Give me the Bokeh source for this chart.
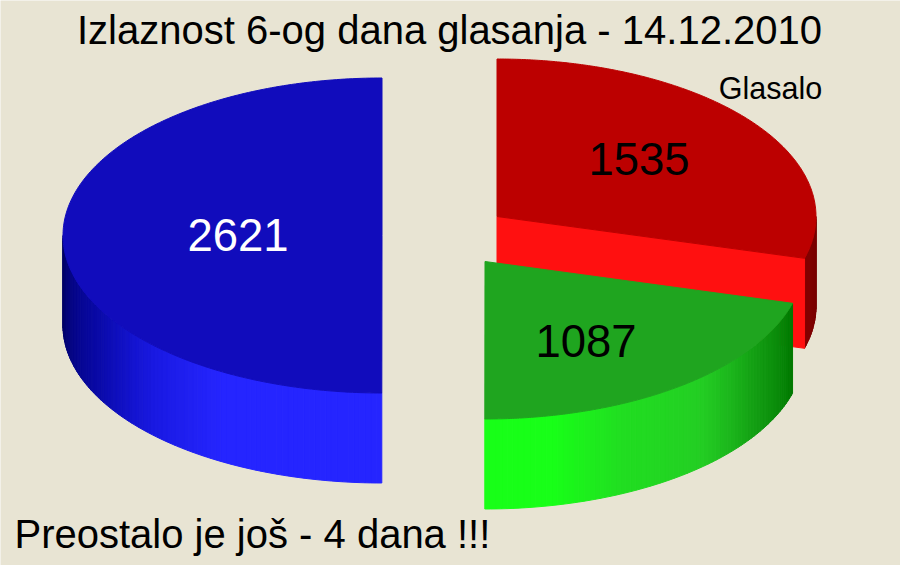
import numpy as np
from bokeh.plotting import figure
from bokeh.models import Range1d
from bokeh.core.properties import value
from bokeh.embed import file_html
from bokeh.resources import INLINE

# data
labels = ["1535", "1087", "2621"]
values = [1535, 1087, 2621]
title_text = "Izlaznost 6-og dana glasanja - 14.12.2010"
legend_text = "Glasalo"
footer_text = "Preostalo je još - 4 dana !!!"

# style / projection
BG = "#e8e4d3"
RX, RY, DEPTH = 319.0, 157.5, 90.0
centers = [(496.5, 216.0), (484.5, 261.0), (381.5, 235.0)]
top_colors = ["#bc0000", "#1fa51f", "#110cbc"]
face_color = "#ff1010"
label_colors = ["black", "black", "white"]
label_pos = [(638.5, 158), (585.5, 340), (237.5, 234)]
FONT = "Liberation Sans"
# wall shading stops: angle clockwise from the top (deg), rgb
red_shade = [(60, (90, 0, 0)), (105, (130, 0, 0))]
green_shade = [(105, (0, 118, 0)), (123, (20, 160, 20)), (137, (35, 205, 35)), (155, (33, 222, 33)),
               (168, (24, 255, 24)), (180, (24, 255, 24))]
blue_shade = [(180, (37, 37, 255)), (210, (37, 37, 255)), (226, (25, 25, 225)), (242, (10, 10, 170)),
              (270, (0, 0, 100))]
shades = [red_shade, green_shade, blue_shade]

W, H = 900, 565
p = figure(width=W, height=H, output_backend="svg", toolbar_location=None,
           x_range=Range1d(0, W), y_range=Range1d(H, 0), min_border=0,
           background_fill_color=BG, border_fill_color=BG, outline_line_color=None)
p.axis.visible = False
p.grid.visible = False

fractions = np.array(values, dtype=float) / sum(values)
edges = np.concatenate([[0.0], np.cumsum(fractions) * 360.0])


def rim(c, t_deg):
    t = np.radians(t_deg)
    return c[0] + RX * np.sin(t), c[1] - RY * np.cos(t)


def shade(stops, t):
    a = [s[0] for s in stops]
    rgb = [int(round(np.interp(t, a, [s[1][k] for s in stops]))) for k in range(3)]
    return "#%02x%02x%02x" % tuple(rgb)


def wall(c, t0, t1, stops):
    # only the front half of the rim is visible from above
    lo = max(t0, 90.0) if t1 <= 180 else t0
    hi = min(t1, 270.0)
    n = max(int((hi - lo) / 1.0), 1)
    ts = np.linspace(lo, hi, n + 1)
    xs, ys, cols = [], [], []
    for a, b in zip(ts[:-1], ts[1:]):
        xa, ya = rim(c, a)
        xb, yb = rim(c, b)
        xs.append([xa, xb, xb, xa])
        ys.append([ya, yb, yb + DEPTH, ya + DEPTH])
        col = shade(stops, 0.5 * (a + b))
        cols.append(col)
    p.patches(xs, ys, fill_color=cols, line_color=cols, line_width=1)


def top(c, t0, t1, col):
    ts = np.linspace(t0, t1, 241)
    x, y = rim(c, ts)
    p.patch(np.r_[c[0], x], np.r_[c[1], y], fill_color=col, line_color=col, line_width=1)


# blue slice
wall(centers[2], edges[2], edges[3], shades[2])
top(centers[2], edges[2], edges[3], top_colors[2])

# red slice: outer wall, cut face, top
wall(centers[0], edges[0], edges[1], shades[0])
xe, ye = rim(centers[0], edges[1])
cx, cy = centers[0]
p.patch([cx, xe, xe, cx], [cy, ye, ye + DEPTH, cy + DEPTH], fill_color=face_color, line_color=face_color)
top(centers[0], edges[0], edges[1], top_colors[0])

# green slice
wall(centers[1], edges[1], edges[2], shades[1])
top(centers[1], edges[1], edges[2], top_colors[1])

# texts
for txt, (x, y), col in zip(labels, label_pos, label_colors):
    p.text([x], [y], text=[txt], text_color=col, text_font=value(FONT), text_font_size="45.5px",
           text_align="center", text_baseline="alphabetic")
p.text([449], [29], text=[title_text], text_color="black", text_font=value(FONT), text_font_size="40px",
       text_align="center", text_baseline="alphabetic")
p.text([770], [87], text=[legend_text], text_color="black", text_font=value(FONT), text_font_size="30.5px",
       text_align="center", text_baseline="alphabetic")
p.text([14], [533], text=[footer_text], text_color="black", text_font=value(FONT), text_font_size="40px",
       text_align="left", text_baseline="alphabetic")

open("out.html", "w").write(file_html(p, INLINE))
